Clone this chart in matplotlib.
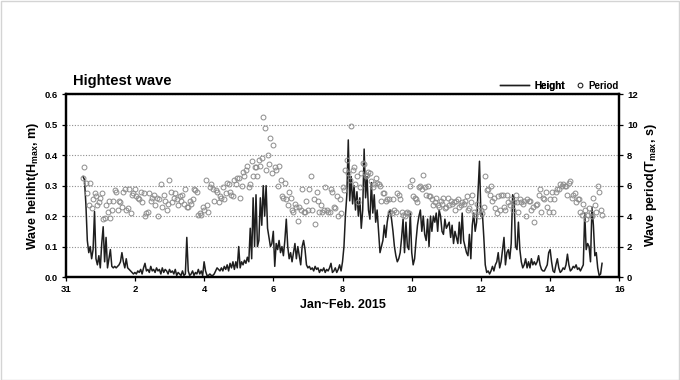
import numpy as np
import pandas as pd
import matplotlib
matplotlib.use('Agg')
import matplotlib.pyplot as plt
from matplotlib.lines import Line2D
from matplotlib.patches import Rectangle

# ---------------- data (hourly, starting 2015-01-31 12:00) ----------------
start_time = '2015-01-31 12:00'

height_m = [
    # Jan 31 12h-23h
    0.33, 0.32, 0.24, 0.12, 0.08, 0.10, 0.06, 0.09, 0.215, 0.06, 0.04, 0.07,
    # Feb 1
    0.03, 0.11, 0.165, 0.05, 0.13, 0.03, 0.06, 0.09, 0.035, 0.03, 0.035, 0.03,
    0.035, 0.04, 0.05, 0.08, 0.05, 0.03, 0.06, 0.03, 0.025, 0.02, 0.015, 0.01,
    # Feb 2
    0.015, 0.01, 0.02, 0.015, 0.025, 0.01, 0.03, 0.045, 0.02, 0.025, 0.015, 0.035,
    0.02, 0.025, 0.015, 0.03, 0.02, 0.025, 0.01, 0.03, 0.015, 0.025, 0.02, 0.01,
    # Feb 3
    0.025, 0.015, 0.02, 0.01, 0.025, 0.005, 0.015, 0.01, 0.005, 0.02, 0.005, 0.01,
    0.13, 0.02, 0.005, 0.01, 0.02, 0.005, 0.015, 0.01, 0.025, 0.01, 0.02, 0.005,
    # Feb 4
    0.05, 0.02, 0.005, 0.005, 0.01, 0.005, 0.005, 0.01, 0.02, 0.03, 0.025, 0.02,
    0.03, 0.02, 0.035, 0.025, 0.04, 0.02, 0.045, 0.03, 0.05, 0.025, 0.05, 0.03,
    # Feb 5
    0.10, 0.03, 0.05, 0.04, 0.055, 0.045, 0.065, 0.05, 0.16, 0.06, 0.26, 0.10,
    0.27, 0.10, 0.12, 0.26, 0.17, 0.30, 0.20, 0.30, 0.16, 0.13, 0.10, 0.11,
    # Feb 6
    0.15, 0.035, 0.11, 0.09, 0.12, 0.08, 0.10, 0.07, 0.12, 0.19, 0.10, 0.06,
    0.08, 0.05, 0.08, 0.11, 0.06, 0.10, 0.07, 0.04, 0.10, 0.12, 0.09, 0.04,
    # Feb 7
    0.03, 0.035, 0.025, 0.03, 0.02, 0.035, 0.025, 0.03, 0.015, 0.025, 0.02, 0.03,
    0.015, 0.025, 0.02, 0.03, 0.045, 0.015, 0.02, 0.03, 0.015, 0.025, 0.04, 0.02,
    # Feb 8
    0.05, 0.10, 0.20, 0.27, 0.45, 0.25, 0.33, 0.24, 0.30, 0.22, 0.28, 0.20,
    0.26, 0.16, 0.22, 0.42, 0.26, 0.33, 0.22, 0.19, 0.31, 0.21, 0.27, 0.18,
    # Feb 9
    0.22, 0.15, 0.08, 0.10, 0.12, 0.17, 0.13, 0.18, 0.21, 0.22, 0.19, 0.15,
    0.10, 0.07, 0.05, 0.06, 0.08, 0.13, 0.19, 0.08, 0.18, 0.10, 0.09, 0.21,
    # Feb 10
    0.08, 0.04, 0.06, 0.12, 0.17, 0.20, 0.22, 0.15, 0.20, 0.14, 0.12, 0.19,
    0.10, 0.20, 0.15, 0.20, 0.18, 0.21, 0.15, 0.22, 0.20, 0.15, 0.14, 0.19,
    # Feb 11
    0.16, 0.17, 0.18, 0.13, 0.17, 0.11, 0.15, 0.13, 0.11, 0.18, 0.11, 0.21,
    0.12, 0.10, 0.08, 0.07, 0.14, 0.06, 0.17, 0.21, 0.15, 0.18, 0.28, 0.38,
    # Feb 12
    0.20, 0.21, 0.13, 0.04, 0.015, 0.02, 0.01, 0.02, 0.035, 0.02, 0.04, 0.05,
    0.08, 0.03, 0.05, 0.09, 0.13, 0.04, 0.08, 0.09, 0.06, 0.11, 0.27, 0.26,
    # Feb 13
    0.10, 0.09, 0.18, 0.09, 0.05, 0.03, 0.04, 0.06, 0.03, 0.05, 0.03, 0.06,
    0.04, 0.05, 0.04, 0.05, 0.07, 0.04, 0.025, 0.02, 0.02, 0.03, 0.04, 0.08,
    # Feb 14
    0.09, 0.05, 0.02, 0.015, 0.04, 0.06, 0.03, 0.015, 0.02, 0.03, 0.025, 0.04,
    0.075, 0.04, 0.02, 0.025, 0.035, 0.03, 0.04, 0.025, 0.03, 0.02, 0.03, 0.04,
    # Feb 15 0h-12h
    0.21, 0.09, 0.11, 0.10, 0.05, 0.23, 0.17, 0.07, 0.08, 0.03, 0.005, 0.01, 0.045,
]

period_s = [
    # Jan 31 12h-23h
    6.5, 7.2, 6.2, 5.5, 4.7, 6.2, 4.5, 5.1, 5.5, 5.3, 4.7, 4.9,
    # Feb 1
    5.2, 5.5, 3.8, 3.9, 4.7, 4.3, 5.0, 3.9, 4.4, 5.0, 5.7, 5.6,
    4.4, 5.0, 4.9, 4.6, 5.6, 5.8, 4.4, 4.5, 5.8, 4.2, 5.4, 5.5,
    # Feb 2
    5.8, 5.3, 5.2, 5.1, 5.6, 4.9, 5.5, 4.0, 4.2, 4.3, 5.5, 5.0,
    5.2, 5.4, 4.7, 5.2, 4.0, 5.1, 6.1, 4.6, 5.4, 5.0, 4.4, 4.8,
    # Feb 3
    6.4, 5.6, 4.9, 5.2, 5.5, 5.1, 4.7, 5.3, 5.0, 5.4, 4.8, 5.8,
    4.6, 4.6, 5.0, 4.8, 5.1, 5.8, 5.7, 5.6, 4.1, 4.2, 4.1, 4.6,
    # Feb 4
    4.4, 6.4, 4.7, 4.3, 5.9, 6.1, 5.8, 5.0, 5.7, 5.6, 4.9, 5.3,
    5.2, 5.9, 5.1, 5.5, 6.2, 6.1, 5.6, 5.4, 5.3, 6.4, 6.1, 6.5,
    # Feb 5
    6.5, 5.2, 6.0, 6.9, 6.6, 7.0, 7.3, 5.9, 6.1, 7.6, 6.6, 7.2,
    7.2, 6.6, 7.7, 7.3, 7.8, 10.5, 9.8, 7.0, 8.0, 7.4, 9.1, 6.8,
    # Feb 6
    8.7, 7.2, 7.0, 6.0, 7.3, 6.4, 5.3, 5.2, 6.2, 5.1, 4.7, 5.6,
    5.2, 4.4, 4.3, 4.8, 4.6, 3.7, 4.6, 4.4, 5.8, 4.3, 4.3, 5.0,
    # Feb 7
    4.4, 5.8, 6.6, 4.4, 5.1, 3.5, 5.6, 5.0, 4.3, 4.7, 4.3, 4.4,
    5.9, 4.4, 4.3, 4.3, 5.8, 5.6, 4.6, 4.5, 5.3, 4.0, 5.1, 4.2,
    # Feb 8
    5.9, 5.7, 7.0, 7.7, 6.8, 6.4, 9.9, 7.0, 7.2, 6.1, 6.6, 4.9,
    5.9, 6.8, 7.5, 7.4, 6.6, 6.7, 6.9, 6.8, 6.3, 5.9, 6.1, 6.5,
    # Feb 9
    6.2, 6.1, 6.0, 5.0, 5.5, 5.5, 5.0, 5.1, 5.1, 4.3, 4.2, 5.1,
    4.4, 4.3, 5.5, 5.4, 5.1, 4.3, 4.1, 4.0, 4.2, 4.3, 4.2, 6.0,
    # Feb 10
    6.4, 5.3, 5.2, 5.1, 4.9, 5.9, 6.0, 5.8, 6.7, 5.9, 5.4, 6.0,
    5.3, 5.3, 5.1, 4.7, 4.9, 5.2, 4.7, 4.6, 5.0, 4.8, 5.2, 4.5,
    # Feb 11
    4.6, 5.2, 4.7, 5.0, 4.8, 4.9, 4.4, 5.0, 5.1, 4.6, 4.7, 4.9,
    4.8, 5.0, 5.3, 4.4, 4.5, 4.9, 5.4, 4.3, 4.1, 4.8, 4.4, 4.0,
    # Feb 12
    4.4, 4.2, 4.6, 6.6, 5.7, 5.8, 5.4, 6.0, 5.0, 5.2, 4.5, 4.2,
    5.3, 4.4, 5.4, 5.4, 4.6, 4.4, 5.4, 4.9, 4.7, 5.1, 4.4, 4.9,
    # Feb 13
    5.4, 4.9, 4.3, 5.1, 4.9, 4.8, 5.0, 4.0, 5.1, 5.0, 5.0, 4.4,
    4.6, 3.6, 4.7, 4.8, 5.4, 5.8, 4.3, 5.2, 5.1, 5.6, 4.6, 4.3,
    # Feb 14
    5.1, 5.6, 4.3, 5.1, 5.6, 5.8, 5.8, 6.1, 6.0, 6.1, 6.0, 6.0,
    5.4, 6.2, 6.3, 5.2, 5.4, 5.5, 4.9, 5.1, 5.1, 4.3, 4.1, 4.8,
    # Feb 15 0h-12h
    4.4, 3.8, 4.1, 4.5, 4.2, 4.0, 5.2, 4.7, 4.3, 6.0, 5.6, 4.4, 4.1,
]

x_start, x_end = '2015-01-31', '2015-02-16'
x_tick_labels = ['31', '2', '4', '6', '8', '10', '12', '14', '16']
left_ticks = [0.0, 0.1, 0.2, 0.3, 0.4, 0.5, 0.6]
right_ticks = [0, 2, 4, 6, 8, 10, 12]

title_text = 'Hightest wave'
xlabel_text = 'Jan~Feb. 2015'
left_label = r'Wave heihht(H$_{\mathbf{max}}$, m)'
right_label = r'Wave period(T$_{\mathbf{max}}$, s)'
legend_labels = ['Height', 'Period']

# ---------------- style ----------------
plt.rcParams['font.family'] = ['Liberation Sans', 'DejaVu Sans']
plt.rcParams['font.weight'] = 'bold'
plt.rcParams['mathtext.fontset'] = 'custom'
plt.rcParams['mathtext.rm'] = 'Liberation Sans:bold'
plt.rcParams['mathtext.bf'] = 'Liberation Sans:bold'
plt.rcParams['mathtext.it'] = 'Liberation Sans:bold'

line_color = '#1e1e1e'
circle_color = '#8c8c8c'

fig = plt.figure(figsize=(6.8, 3.8), dpi=100)
fig.patch.set_facecolor('white')
fig.add_artist(Rectangle((0.001, 0.001), 0.997, 0.997, transform=fig.transFigure,
                         fill=False, edgecolor='#d4d4d4', lw=1.0))

ax = fig.add_axes([0.0966, 0.271, 0.8142, 0.481])
ax2 = ax.twinx()

t_h = pd.date_range(start_time, periods=len(height_m), freq='h')
t_p = pd.date_range(start_time, periods=len(period_s), freq='h')

ax.plot(t_h, height_m, color=line_color, lw=1.1, zorder=3)
ax2.plot(t_p, period_s, ls='none', marker='o', ms=3.5, mfc='none',
         mec=circle_color, mew=0.7, zorder=2)

ax.set_xlim(pd.Timestamp(x_start), pd.Timestamp(x_end))
ax.set_ylim(left_ticks[0], left_ticks[-1])
ax2.set_ylim(right_ticks[0], right_ticks[-1])

tick_dates = pd.date_range(x_start, x_end, freq='2D')
ax.set_xticks(tick_dates)
ax.set_xticklabels(x_tick_labels)
ax.set_yticks(left_ticks)
ax.set_yticklabels([f'{v:.1f}' for v in left_ticks])
ax2.set_yticks(right_ticks)
ax2.set_yticklabels([str(v) for v in right_ticks])

ax.yaxis.grid(True, linestyle=(0, (1, 1.5)), color='#8f8f8f', lw=0.8)
ax.set_axisbelow(True)

for a in (ax, ax2):
    for s in a.spines.values():
        s.set_linewidth(1.6)
        s.set_color('black')
    a.tick_params(axis='both', direction='out', length=3, width=0.9,
                  labelsize=6.8, pad=2.5)

ax.set_ylabel(left_label, fontsize=9, fontweight='bold', labelpad=3)
ax2.set_ylabel(right_label, fontsize=9, fontweight='bold', labelpad=4)
ax.set_xlabel(xlabel_text, fontsize=9, fontweight='bold', labelpad=4)

fig.text(0.107, 0.776, title_text, fontsize=10.5, fontweight='bold',
         ha='left', va='baseline')

h_line = Line2D([], [], color=line_color, lw=1.0)
h_circ = Line2D([], [], ls='none', marker='o', ms=3.4, mfc='none',
                mec='#222222', mew=0.8)
leg1 = fig.legend([h_line], [legend_labels[0]], loc='center right',
                  bbox_to_anchor=(0.830, 0.774), frameon=False, fontsize=7,
                  handlelength=3.0, handletextpad=0.5, borderpad=0,
                  borderaxespad=0)
leg2 = fig.legend([h_circ], [legend_labels[1]], loc='center right',
                  bbox_to_anchor=(0.910, 0.774), frameon=False, fontsize=7,
                  handlelength=0.9, handletextpad=0.4, borderpad=0,
                  borderaxespad=0)
fig.add_artist(leg1)

fig.savefig('out.png', dpi=100, facecolor='white')
